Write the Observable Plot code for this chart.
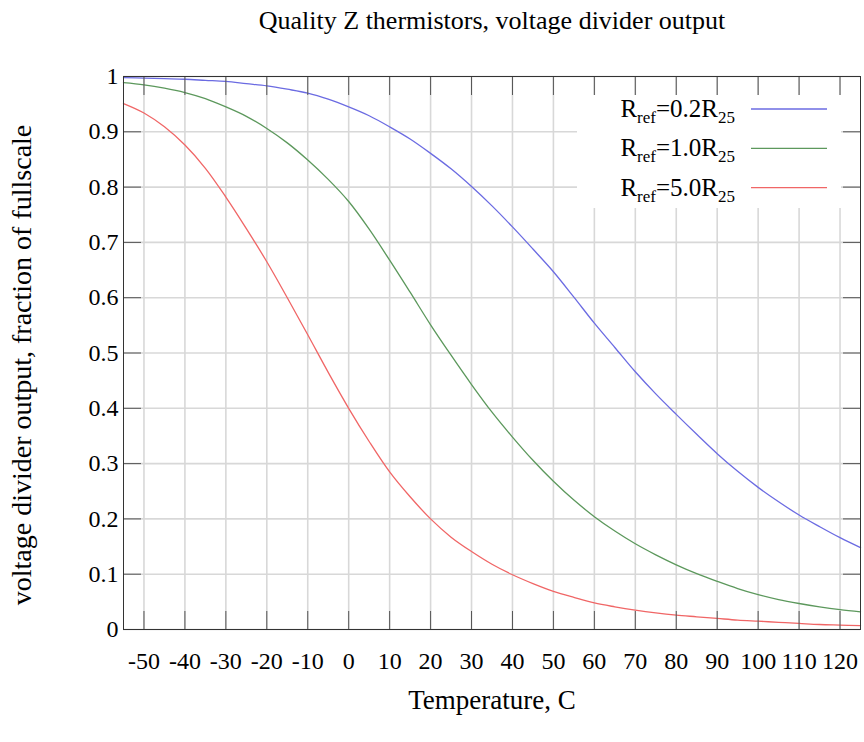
<!DOCTYPE html>
<html><head><meta charset="utf-8">
<script src="https://cdn.jsdelivr.net/npm/d3@7"></script>
<script src="https://cdn.jsdelivr.net/npm/@observablehq/plot@0.6"></script>
<style>body{margin:0;background:#fff} #chart{width:864px;height:742px}</style>
</head><body><div id="chart"></div>
<script>
const temps = [-55,-50,-45,-40,-35,-30,-25,-20,-15,-10,-5,0,5,10,15,20,25,30,35,40,45,50,55,60,65,70,75,80,85,90,95,100,105,110,115,120,125];
const rref02 = [0.998,0.997,0.996,0.995,0.993,0.991,0.987,0.983,0.977,0.970,0.959,0.945,0.929,0.909,0.887,0.861,0.833,0.801,0.766,0.728,0.688,0.647,0.601,0.554,0.510,0.466,0.426,0.389,0.353,0.318,0.286,0.257,0.231,0.207,0.186,0.166,0.148];
const rref10 = [0.989,0.985,0.979,0.971,0.960,0.945,0.928,0.906,0.880,0.849,0.814,0.774,0.724,0.668,0.610,0.551,0.496,0.443,0.393,0.348,0.306,0.268,0.234,0.204,0.178,0.155,0.135,0.117,0.101,0.087,0.074,0.063,0.054,0.047,0.041,0.036,0.032];
const rref50 = [0.951,0.934,0.909,0.876,0.834,0.782,0.725,0.665,0.600,0.533,0.465,0.400,0.340,0.285,0.240,0.200,0.167,0.141,0.118,0.099,0.083,0.069,0.058,0.048,0.041,0.035,0.030,0.026,0.023,0.020,0.017,0.015,0.013,0.011,0.009,0.008,0.007];
const seriesNames = ["0.2", "1.0", "5.0"];
const seriesColors = ["#6b6be2", "#5c985c", "#f06666"];
const xTicks = [-50,-40,-30,-20,-10,0,10,20,30,40,50,60,70,80,90,100,110,120];
const yTicks = [0,0.1,0.2,0.3,0.4,0.5,0.6,0.7,0.8,0.9,1];
const titleText = "Quality Z thermistors, voltage divider output";
const xLabel = "Temperature, C";
const yLabel = "voltage divider output, fraction of fullscale";

const rows = [];
[rref02, rref10, rref50].forEach((vals, i) => vals.forEach((v, j) => rows.push({T: temps[j], v, s: seriesNames[i]})));

const font = "'Liberation Serif', 'Times New Roman', serif";
const tickStroke = "#555";
const plot = Plot.plot({
  width: 864, height: 742,
  marginLeft: 123, marginRight: 4, marginTop: 76, marginBottom: 113,
  style: {fontFamily: font, fontSize: "24px", background: "#fff", color: "#000", overflow: "visible"},
  x: {domain: [-55, 125]},
  y: {domain: [0, 1]},
  color: {domain: seriesNames, range: seriesColors},
  marks: [
    Plot.gridX(xTicks, {stroke: "#d8d8d8", strokeOpacity: 1, strokeWidth: 1.6}),
    Plot.gridY(yTicks, {stroke: "#d8d8d8", strokeOpacity: 1, strokeWidth: 1.6}),
    Plot.line(rows, {x: "T", y: "v", z: "s", stroke: "s", strokeWidth: 1.3, curve: "catmull-rom"}),
    Plot.axisX(xTicks, {anchor: "bottom", tickSize: -18, tickFormat: () => "", label: null, stroke: tickStroke}),
    Plot.axisX(xTicks, {anchor: "top", tickSize: -18, tickFormat: () => "", label: null, stroke: tickStroke}),
    Plot.axisY(yTicks, {anchor: "left", tickSize: -18, tickFormat: () => "", label: null, stroke: tickStroke}),
    Plot.axisY(yTicks, {anchor: "right", tickSize: -18, tickFormat: () => "", label: null, stroke: tickStroke}),
    Plot.axisX(xTicks, {anchor: "bottom", tickSize: 0, tickPadding: 22, tickFormat: d => String(d), label: null, fontSize: 24}),
    Plot.axisY(yTicks, {anchor: "left", tickSize: 0, tickPadding: 5, tickFormat: d => String(+d.toFixed(1)), label: null, fontSize: 24}),
    Plot.frame({stroke: "#333", strokeWidth: 1}),
    Plot.text([titleText], {text: d => d, frameAnchor: "top", lineAnchor: "middle", dy: -56, fontSize: 26}),
    Plot.text([xLabel], {text: d => d, frameAnchor: "bottom", lineAnchor: "middle", dy: 71, fontSize: 27}),
    Plot.text([yLabel], {text: d => d, frameAnchor: "left", textAnchor: "middle", lineAnchor: "middle", rotate: -90, dx: -101, dy: 12, fontSize: 28})
  ]
});

// legend (gnuplot-style key, top right, opaque box without border)
const svg = d3.select(plot);
const g = svg.append("g").attr("font-family", font).attr("font-size", 25).attr("fill", "#000");
const frameRight = 864 - 4;
g.append("rect").attr("x", frameRight - 283).attr("y", 95).attr("width", 264).attr("height", 113).attr("fill", "#fff");
seriesNames.forEach((s, i) => {
  const yc = 109 + i * 39.3;
  const t = g.append("text").attr("x", 735).attr("y", yc + 8).attr("text-anchor", "end");
  t.append("tspan").text("R");
  t.append("tspan").attr("dy", 6).attr("font-size", 17).text("ref");
  t.append("tspan").attr("dy", -6).text("=" + s + "R");
  t.append("tspan").attr("dy", 6).attr("font-size", 17).text("25");
  g.append("line").attr("x1", 751).attr("x2", 827).attr("y1", yc).attr("y2", yc)
    .attr("stroke", seriesColors[i]).attr("stroke-width", 1.3);
});

document.getElementById("chart").appendChild(plot);
</script></body></html>
